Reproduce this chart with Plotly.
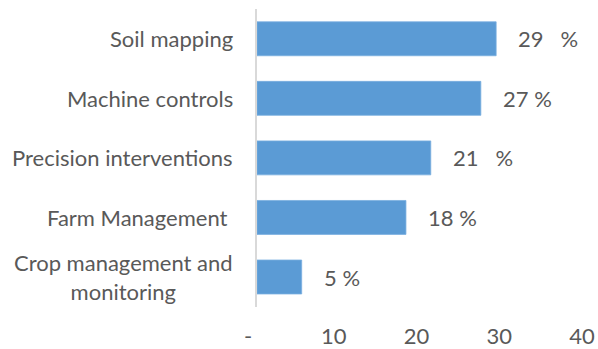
import plotly.graph_objects as go

categories = ["Soil mapping", "Machine controls", "Precision interventions",
              "Farm Management\u00a0", "Crop management and<br>monitoring"]
values = [28.9, 27.05, 21.0, 18.0, 5.4]
value_labels = ["29\u00a0\u00a0\u00a0%", "27\u00a0%", "21\u00a0\u00a0\u00a0%", "18\u00a0%", "5\u00a0%"]
x_tickvals = [0, 10, 20, 30, 40]
x_ticktext = ["-\u00a0", "10", "20", "30", "40"]

FONT = "Lato"
GRAY = "#595959"
FS = 22

fig = go.Figure()
fig.add_trace(go.Bar(
    y=categories, x=values, orientation="h",
    marker=dict(color="#5b9bd5", line=dict(color="#7aaee0", width=0.8)),
    hoverinfo="skip",
))

annotations = []
for c, v, t in zip(categories, values, value_labels):
    annotations.append(dict(x=v, y=c, xref="x", yref="y", text=t, showarrow=False,
                            xanchor="left", xshift=20,
                            font=dict(family=FONT, size=FS, color=GRAY)))
    annotations.append(dict(x=0, y=c, xref="x", yref="y", text=c, showarrow=False,
                            xanchor="right", xshift=-22, align="center",
                            font=dict(family=FONT, size=FS, color=GRAY)))

fig.update_layout(
    width=598, height=349,
    margin=dict(l=257, r=10, t=9, b=42, autoexpand=False),
    paper_bgcolor="white", plot_bgcolor="white",
    showlegend=False,
    bargap=0.43,
    annotations=annotations,
    xaxis=dict(range=[0, 40], tickvals=x_tickvals, ticktext=x_ticktext,
               showgrid=False, zeroline=False, showline=False, automargin=False,
               ticklabelstandoff=14, ticklabelshift=-6,
               tickfont=dict(family=FONT, size=FS, color=GRAY)),
    yaxis=dict(autorange="reversed", showticklabels=False, showgrid=False, automargin=False,
               zeroline=False, showline=True, linecolor="#d9d9d9", linewidth=2),
)

fig.write_html("out.html")
